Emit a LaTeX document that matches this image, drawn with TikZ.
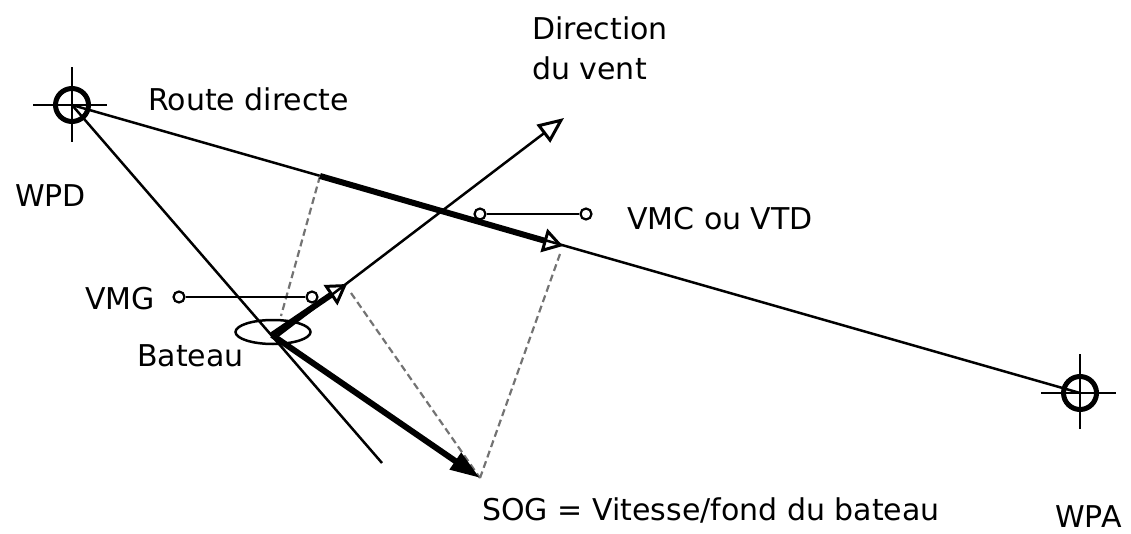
\documentclass[tikz,border=0pt]{standalone}
\usepackage{fontspec}
\setmainfont{DejaVu Sans}
\usetikzlibrary{arrows.meta,shapes.geometric}
\begin{document}
\begin{tikzpicture}[x=1pt,y=-1pt,
  thinline/.style={line width=2.5pt},
  vector/.style={line width=6pt},
  proj/.style={line width=2.2pt, draw=black!55, dash pattern=on 7pt off 4pt},
  lbl/.style={font=\fontsize{30}{36}\selectfont, anchor=base west, inner sep=0pt},
  wp/.style={circle, draw, line width=5pt, minimum size=33pt, inner sep=0pt},
  pin/.style={circle, draw, fill=white, line width=2.2pt, minimum size=11pt, inner sep=0pt},
  openhead/.style={-{Triangle[open, length=20pt, width=24pt, line width=3pt]}},
  fullhead/.style={-{Triangle[length=30pt, width=19pt]}}
]
\useasboundingbox (0,0) rectangle (1131,534);

% key points
\coordinate (WPDc) at (72,105);
\coordinate (WPAc) at (1080,393);
\coordinate (B) at (272,335);        % boat position
\coordinate (windfoot) at (275,338);
\coordinate (windtip) at (564,118);
\coordinate (vmcstart) at (320,176); % projection of the boat on the route
\coordinate (vmcend) at (563,246);   % projection of the SOG tip on the route
\coordinate (vmgend) at (347,284);   % projection of the SOG tip on the wind
\coordinate (sogend) at (480,478);
\coordinate (headend) at (382,463);

% direct route and heading line
\draw[thinline] (WPDc) -- (WPAc);
\draw[thinline] (WPDc) -- (headend);

% wind direction
\draw[thinline, -{Triangle[open, length=26pt, width=22pt, line width=3pt]}] (windfoot) -- (windtip);

% projection lines
\draw[proj] (vmcstart) -- (281,316);
\draw[proj] (560,254) -- (sogend);
\draw[proj] (351,293) -- (sogend);

% waypoints
\node[wp] (WPD) at (WPDc) {};
\node[wp] (WPA) at (WPAc) {};
\draw[thinline] ([xshift=-39pt]WPD.center) -- ([xshift=35pt]WPD.center);
\draw[thinline] ([yshift=-37pt]WPD.center) -- ([yshift=38pt]WPD.center);
\draw[thinline] ([xshift=-39pt]WPA.center) -- ([xshift=36pt]WPA.center);
\draw[thinline] ([yshift=-36pt]WPA.center) -- ([yshift=39pt]WPA.center);

% boat
\node[ellipse, draw, line width=2.5pt, minimum width=75pt, minimum height=24pt, inner sep=0pt] (boat) at (273,332) {};

% vectors
\draw[vector, openhead] (vmcstart) -- (vmcend);
\draw[vector, openhead] (B) -- (vmgend);
\draw[vector, fullhead] (B) -- (sogend);

% label leaders
\node[pin] (vmcA) at (480,214) {};
\node[pin] (vmcB) at (586,214) {};
\draw[thinline] (vmcA) -- (vmcB);
\node[pin] (vmgA) at (179,297) {};
\node[pin] (vmgB) at (312,297) {};
\draw[thinline] (vmgA) -- (vmgB);

% texts
\node[lbl] (t1) at (532,40) {Direction};
\node[lbl] (t2) at (532,80) {du vent};
\node[lbl] (t3) at (148,111) {Route directe};
\node[lbl] (t4) at (15,207) {WPD};
\node[lbl] (t5) at (627,230) {VMC ou VTD};
\node[lbl] (t6) at (85,309) {VMG};
\node[lbl] (t7) at (137,366) {Bateau};
\node[lbl] (t8) at (482,520) {SOG = Vitesse/fond du bateau};
\node[lbl] (t9) at (1055,527) {WPA};
\end{tikzpicture}
\end{document}
